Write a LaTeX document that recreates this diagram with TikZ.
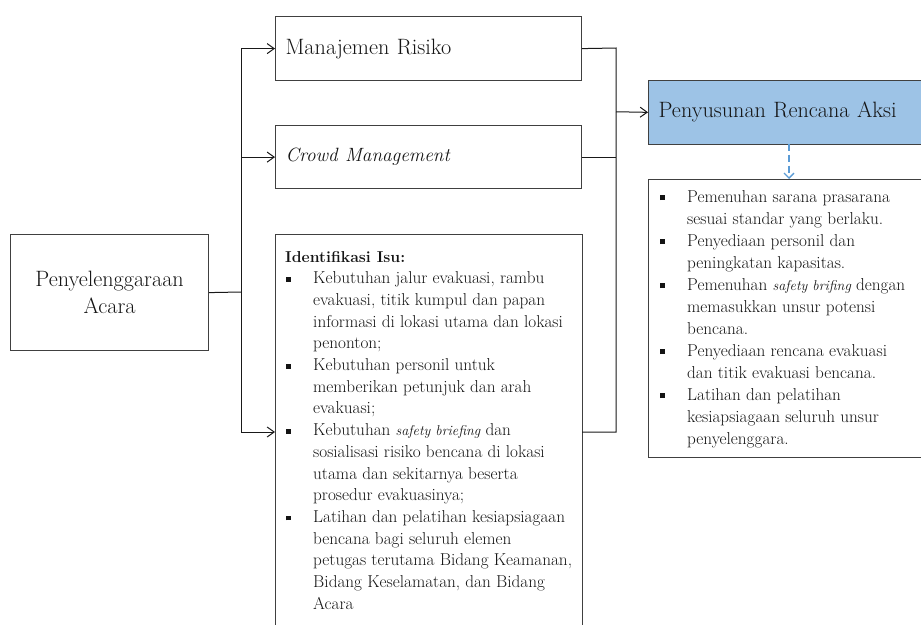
\documentclass[tikz,border=0pt]{standalone}
\usepackage{fontspec}
\usepackage{array}
\usetikzlibrary{arrows.meta}
\definecolor{lineg}{HTML}{404040}
\definecolor{boxblue}{HTML}{9DC3E6}
\definecolor{dashblue}{HTML}{5B9BD5}
\newcommand{\sqb}{\hspace*{1pt}\rule[2pt]{4.6pt}{4.6pt}}
\newcommand{\smit}[1]{{\fontsize{14.2}{14.2}\selectfont\itshape #1}}
\begin{document}
\begin{tikzpicture}[x=1pt,y=-1pt,
  box/.style={draw=lineg, line width=1.2pt, rectangle, inner sep=0pt},
  big/.style={font=\fontsize{22.2}{27}\selectfont, text=black!92},
  body/.style={font=\fontsize{17.2}{#1}\selectfont, text=black!92, inner sep=0pt, anchor=base west},
  conn/.style={draw=black!90, line width=1pt},
  arr/.style={conn, -{Straight Barb[length=7pt,width=10pt,line width=1pt]}}]

\useasboundingbox (0,0) rectangle (921,624);

% boxes
\node[box, big, anchor=north west, minimum width=198pt, minimum height=116pt, align=center] (pa) at (10,234) {Penyelenggaraan\\Acara};
\node[box, big, anchor=north west, minimum width=306pt, minimum height=64pt, text width=286pt, inner xsep=10pt, align=left] (mr) at (275,16) {Manajemen Risiko};
\node[box, big, anchor=north west, minimum width=306pt, minimum height=63pt, text width=286pt, inner xsep=10pt, align=left] (cm) at (275,125) {\fontsize{19.2}{24}\selectfont\itshape Crowd Management};
\node[box, anchor=north west, minimum width=307pt, minimum height=420pt] (ib) at (275,234) {};
\node[box, big, fill=boxblue, anchor=north west, minimum width=292pt, minimum height=63.5pt, text width=272pt, inner xsep=10pt, align=left] (pra) at (648,80) {Penyusunan Rencana Aksi};
\node[box, anchor=north west, minimum width=292pt, minimum height=278pt] (lb) at (648,179) {};

% texts
\node[body=21.7pt] (ibt) at (285,262) {\begin{tabular}[t]{@{}p{28pt}@{}l@{}}
\multicolumn{2}{@{}l@{}}{\fontsize{15.8}{15.8}\selectfont\bfseries Identifikasi Isu:}\\
\sqb & Kebutuhan jalur evakuasi, rambu\\
 & evakuasi, titik kumpul dan papan\\
 & informasi di lokasi utama dan lokasi\\
 & penonton;\\
\sqb & Kebutuhan personil untuk\\
 & memberikan petunjuk dan arah\\
 & evakuasi;\\
\sqb & Kebutuhan \smit{safety briefing} dan\\
 & sosialisasi risiko bencana di lokasi\\
 & utama dan sekitarnya beserta\\
 & prosedur evakuasinya;\\
\sqb & Latihan dan pelatihan kesiapsiagaan\\
 & bencana bagi seluruh elemen\\
 & petugas terutama Bidang Keamanan,\\
 & Bidang Keselamatan, dan Bidang\\
 & Acara
\end{tabular}};

\node[body=22pt] (lbt) at (659,202) {\begin{tabular}[t]{@{}p{28pt}@{}l@{}}
\sqb & Pemenuhan sarana prasarana\\
 & sesuai standar yang berlaku.\\
\sqb & Penyediaan personil dan\\
 & peningkatan kapasitas.\\
\sqb & Pemenuhan \smit{safety brifing} dengan\\
 & memasukkan unsur potensi\\
 & bencana.\\
\sqb & Penyediaan rencana evakuasi\\
 & dan titik evakuasi bencana.\\
\sqb & Latihan dan pelatihan\\
 & kesiapsiagaan seluruh unsur\\
 & penyelenggara.
\end{tabular}};

% connector points
\coordinate (j1) at (241,292);
\coordinate (ia) at (275,432);
\coordinate (ie) at (582,432);
\coordinate (r1) at (616,48);
\coordinate (r3) at (616,432);
\coordinate (rp) at (616,111.75);
\coordinate (d1) at (789,143.5);

\draw[conn] (pa.east) -- (j1);
\draw[arr] (j1) |- (mr.west);
\draw[arr] (j1) |- (cm.west);
\draw[arr] (j1) |- (ia);
\draw[conn] (mr.east) -- (r1) -- (r3) -- (ie);
\draw[conn] (cm.east) -- (cm.east -| r1);
\draw[arr] (rp) -- (pra.west);
\draw[draw=dashblue, line width=1.3pt, dash pattern=on 7pt off 4pt,
  -{Straight Barb[length=5pt,width=10pt,line width=1.3pt]}] (d1) -- (d1 |- lb.north);
\end{tikzpicture}
\end{document}
